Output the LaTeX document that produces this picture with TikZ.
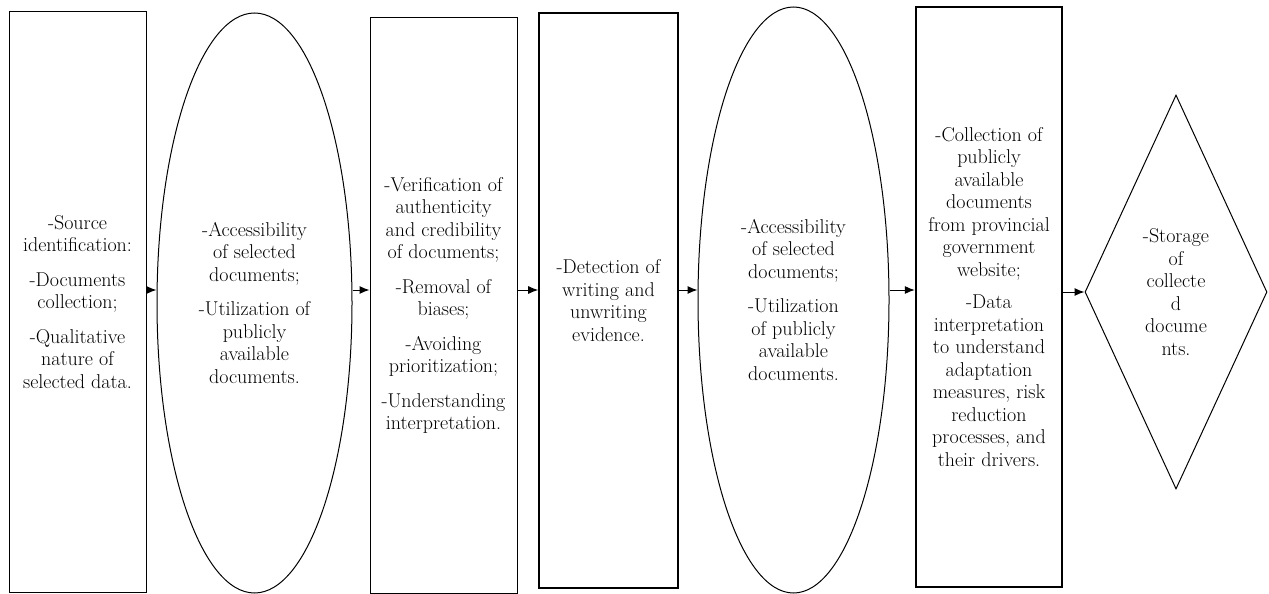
\documentclass[tikz,border=0pt]{standalone}
\usetikzlibrary{shapes.geometric,arrows.meta}

\begin{document}
\begin{tikzpicture}[x=1pt,y=-1pt,
    StepBox/.style={draw, rectangle, inner sep=0pt, line width=1pt, align=center,
      font=\fontsize{20}{22.5}\selectfont},
    StepEllipse/.style={StepBox, ellipse},
    StepDiamond/.style={StepBox, diamond, aspect=0.46},
    FlowArrow/.style={line width=1pt, -{Latex[length=10pt,width=8pt]}}]
    \useasboundingbox (0,0) rectangle (1269,594);
    \coordinate (ArrowRow) at (0,290);

    \node [StepBox, minimum width=137pt, minimum height=580pt] (SourceBox) at (77.5,302)
      {-Source\\identification:\\[12pt]-Documents\\collection;\\[12pt]-Qualitative\\nature of\\selected data.};
    \node [StepEllipse, minimum width=195pt, minimum height=580pt] (AccessEllipse) at (254.5,303)
      {-Accessibility\\of selected\\documents;\\[12pt]-Utilization of\\publicly\\available\\documents.};
    \node [StepBox, minimum width=147pt, minimum height=575pt] (VerifyBox) at (443.5,305.5)
      {-Verification of\\authenticity\\and credibility\\of documents;\\[12pt]-Removal of\\biases;\\[12pt]-Avoiding\\prioritization;\\[12pt]-Understanding\\interpretation.};
    \node [StepBox, line width=1.6pt, minimum width=139pt, minimum height=575pt] (DetectBox) at (608.5,300.5)
      {-Detection of\\writing and\\unwriting\\evidence.};
    \node [StepEllipse, minimum width=191pt, minimum height=586pt] (AccessEllipseTwo) at (793.5,300)
      {-Accessibility\\of selected\\documents;\\[12pt]-Utilization\\of publicly\\available\\documents.};
    \node [StepBox, line width=2.4pt, minimum width=146pt, minimum height=580pt] (CollectBox) at (989,297)
      {-Collection of\\publicly\\available\\documents\\from provincial\\government\\website;\\[10pt]-Data\\interpretation\\to understand\\adaptation\\measures, risk\\reduction\\processes, and\\their drivers.};
    \node [StepDiamond, minimum width=182pt, minimum height=394pt] (StorageDiamond) at (1176,292)
      {-Storage\\of\\collecte\\d\\docume\\nts.};

    \draw [FlowArrow] (SourceBox.east |- ArrowRow) -- (AccessEllipse.west |- ArrowRow);% Draw 1 to 2
    \draw [FlowArrow] (AccessEllipse.east |- ArrowRow) -- (VerifyBox.west |- ArrowRow);% Draw 2 to 3
    \draw [FlowArrow] (VerifyBox.east |- ArrowRow) -- (DetectBox.west |- ArrowRow);% Draw 3 to 4
    \draw [FlowArrow] (DetectBox.east |- ArrowRow) -- (AccessEllipseTwo.west |- ArrowRow);% Draw 4 to 5
    \draw [FlowArrow] (AccessEllipseTwo.east |- ArrowRow) -- (CollectBox.west |- ArrowRow);% Draw 5 to 6
    \draw [FlowArrow] (CollectBox.east |- StorageDiamond.west) -- (StorageDiamond.west);% Draw 6 to 7

  \end{tikzpicture}
\end{document}
